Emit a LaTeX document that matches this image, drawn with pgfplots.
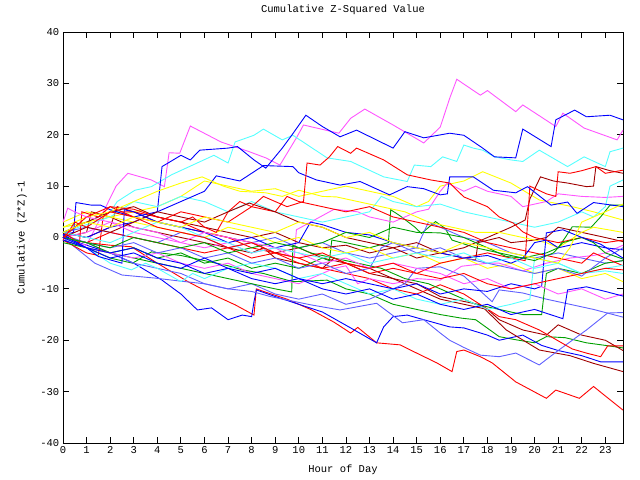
\documentclass[border=0pt]{standalone}
\usepackage{fontspec}
\setmainfont{Liberation Mono}
\usepackage{pgfplots}
\pgfplotsset{compat=1.18}
\definecolor{gred}{HTML}{FF0000}
\definecolor{ggreen}{HTML}{00A000}
\definecolor{gblue}{HTML}{0000FF}
\definecolor{gmag}{HTML}{FF55FF}
\definecolor{gcyan}{HTML}{55FFFF}
\definecolor{gdred}{HTML}{A00000}
\definecolor{gyel}{HTML}{FFFF00}
\definecolor{gperi}{HTML}{6060FF}
\begin{document}
\fontsize{10.5bp}{12bp}\selectfont
\begin{tikzpicture}
\useasboundingbox (-63bp,-37bp) rectangle (577bp,443bp);
\begin{axis}[
  scale only axis, width=560bp, height=411bp,
  xmin=0, xmax=23.75, ymin=-40, ymax=40,
  xtick={0,1,...,23}, ytick={-40,-30,...,40},
  tick align=inside, major tick length=6bp,
  tick style={black, line width=0.8bp},
  axis line style={black, line width=0.8bp},
  /pgf/number format/assume math mode=true,
  ticklabel style={font=\fontsize{10.5bp}{12bp}\selectfont},
  title={Cumulative Z-Squared Value},
  title style={at={(axis description cs:0.5,1)}, anchor=center, yshift=16bp},
  xlabel={Hour of Day},
  xlabel style={at={(axis description cs:0.5,0)}, anchor=center, yshift=-27bp},
  ylabel={Cumulative (Z*Z)-1},
  ylabel style={at={(axis description cs:-0.0732,0.5)}, anchor=center},
  every axis plot/.append style={line width=0.9bp, mark=none},
]
% W red lowest
\addplot[gred] coordinates {(0,0)(1,-1)(2,-1.5)(2.9,-1.8)(4,-5)(5.3,-8.6)(6.3,-11)(7.3,-13.1)(8.1,-15.1)(8.2,-10)(8.5,-10.5)(9.5,-12)(10.5,-14)(11.5,-16.5)(12.2,-18.6)(12.5,-17.5)(13.3,-20.5)(14.3,-20.9)(15,-22.5)(15.85,-24.4)(16.5,-26.1)(16.7,-22.2)(17,-21.9)(17.7,-23.2)(18.2,-24.4)(19.2,-28.1)(20.5,-31.3)(20.9,-29.7)(21.9,-31.3)(22.5,-29)(23.75,-33.6)};
% T green
\addplot[ggreen] coordinates {(0,-0.5)(1,-2)(2,-4)(2.95,-5)(3.75,-2.8)(5,-3.5)(6,-4.5)(7,-5.5)(7.6,-6.3)(8.5,-7)(9.75,-8.6)(11.2,-8.3)(12,-10)(13,-11)(14,-13)(15,-14)(16,-15)(16.9,-15.7)(17.5,-16)(18.5,-19.3)(19.2,-19.9)(20,-20.5)(20.5,-19.3)(21.3,-19.5)(22.2,-20.5)(23,-21)(23.75,-21.5)};
% X blue
\addplot[gblue] coordinates {(0,0)(1,-1.5)(2,-3)(3,-5)(4.2,-8.3)(5,-11)(5.7,-14.1)(6.3,-13.7)(7,-16)(7.6,-15.1)(8,-15.4)(8.1,-12.5)(8.2,-10.2)(9,-11.5)(10,-13)(11,-14.5)(12.2,-17.6)(13.3,-20.5)(13.6,-17.4)(14,-15.4)(14.6,-15.1)(15.3,-16)(16.4,-17.4)(17,-17.6)(18,-19)(18.5,-20)(19.5,-19)(20.3,-21)(21,-22)(22,-23)(22.8,-24.2)(23.75,-24.2)};
% extra darkred
\addplot[gdred] coordinates {(0,0)(1,1)(1.2,5)(2,4)(3,2)(4,1)(5,0)(6,-1)(7,-2)(8,-3)(8.5,-2)(9,-4)(10,-5)(11,-6)(11.5,-4)(12,-5)(13,-7)(14,-8)(15,-10)(16,-12)(17,-13)(18,-14)(18.5,-16)(19.5,-18)(20.5,-19)(21,-17)(22,-19)(23,-20)(23.75,-22)};
% A magenta top
\addplot[gmag] coordinates {(0,0)(0.5,-1)(1,-1.5)(1.5,3)(2.25,10)(2.75,12.5)(3.75,11.2)(4.3,9.9)(4.5,16.5)(4.95,16.4)(5.4,21.7)(6.7,18.6)(7.9,16.7)(8.6,15.5)(9.2,14.1)(9.9,19.4)(10.2,21.9)(11.7,20.3)(12.2,23.2)(12.8,25)(14,21.9)(15.3,18.4)(16,21.5)(16.4,27.1)(16.7,30.8)(17.7,27.7)(18,28.6)(19.2,24.5)(19.5,25.8)(20.9,21.6)(21.2,24.2)(22.1,21.3)(23.5,19)(23.75,20.9)};
% C cyan top
\addplot[gcyan] coordinates {(0,2)(1,3)(2,5)(2.3,7)(3.05,9.2)(3.75,9.9)(4.6,12.2)(6.4,16)(7,14.5)(7.3,18.6)(8.1,19.9)(8.5,21.1)(9.3,19)(9.75,19.9)(11.2,15.5)(12.2,14.8)(13.6,11.8)(14.6,10.9)(14.9,14.1)(15.6,13.8)(16.1,15.7)(16.7,14.8)(17,18)(17.4,17.4)(17.8,17)(18.3,15.7)(19,15.1)(19.5,14.8)(20.2,17)(21.4,13.8)(22.1,15.7)(23,13.8)(23.2,16.7)(23.75,17.4)};
% V darkred
\addplot[gdred] coordinates {(0,1)(1,0)(2,2)(2.3,6)(3,5)(4,3)(5,2)(6,1)(7,0)(8,-1)(9,-3)(10,-2)(11,-4)(12,-5)(13,-6)(14,-8)(15,-9)(16,-11.5)(17.7,-13.1)(18.8,-18)(20.2,-21.9)(21.5,-23)(22.5,-24.5)(23.75,-26.1)};
% J yellow
\addplot[gyel] coordinates {(0,2)(1,3)(2,4)(3,5)(4,6)(5,8)(6,11)(7,10)(8,9)(9,9.5)(10,8)(11,9)(12,10)(13,9)(14,8)(15,6)(15.5,7)(16,10)(17,11)(17.8,12.8)(19,10.6)(20.2,7.3)(21.6,6)(22.5,5)(23.75,3.4)};
% R periwinkle
\addplot[gperi] coordinates {(0,0)(1.35,-5)(2.5,-7.3)(3.9,-7.9)(5,-8.5)(6,-9)(7,-10)(8,-10.5)(8.8,-11.5)(10.5,-13.1)(11.75,-14.1)(13.3,-12.8)(14.4,-16.6)(15.3,-16)(16,-18.6)(16.4,-20)(17,-21.4)(17.7,-22.9)(18.5,-23.2)(19.2,-22.5)(20.2,-24.8)(21,-22)(22.2,-18)(23.1,-14.7)(23.75,-14.6)};
% S red
\addplot[gred] coordinates {(0,-0.5)(1,-3)(1.5,-3.5)(1.7,4)(2,5)(3,5)(4,4)(5,3)(6,1)(7,0)(8,-2)(9,-3)(10,-4)(11,-6)(12,-7)(13,-8)(14,-10)(15,-11)(16,-9.2)(17,-11)(18.5,-15.4)(19.2,-16)(20.2,-18)(21.6,-21.7)(22.2,-22.5)(22.8,-23.2)(23.1,-21.1)(23.75,-21.1)};
% I green
\addplot[ggreen] coordinates {(0,-1)(1,-2)(2,-3)(3,-2)(4,-4)(5,-3)(6,-5)(7,-4)(8,-6)(9,-5)(10,-6)(11,-4)(11.3,-4.5)(11.4,-0.5)(12,-1)(13,-2)(13.8,-1)(13.9,5.4)(14.3,4.2)(14.9,2.1)(15.2,0.8)(15.8,3.1)(16.2,1.8)(16.5,-0.5)(17.5,-2)(18.5,-3)(19.5,-4)(20.5,-3)(21,-2)(21.3,0)(21.6,2.1)(22.4,2)(22.8,4)(23.2,6.3)(23.75,6.3)};
% B blue top
\addplot[gblue] coordinates {(0,1)(1,0)(2,2)(3,3)(4,5)(4.2,13.8)(5,16)(5.4,15.1)(5.8,17)(7,17.4)(7.4,17.7)(8.1,15.1)(8.6,13.5)(9.3,17.4)(9.7,19.9)(10.3,23.8)(11,21.6)(11.75,19.6)(12.45,20.9)(14,17.4)(14.5,20.6)(15.3,19.4)(16.4,20.3)(17,19.9)(17.8,17.4)(18.3,15.7)(19.2,15.5)(19.5,21.1)(20.7,17.7)(20.9,22.9)(21.7,24.8)(22.2,23.5)(23.2,23.8)(23.75,22.9)};
% extra periwinkle
\addplot[gperi] coordinates {(0,1)(1,2)(2,1)(3,0)(4,-1)(5,1)(6,0)(7,-2)(8,-1)(9,0)(10,-2)(11,-1)(12,-3)(13,-4)(14,-3)(15,-2)(15.5,3)(16,2)(17,0)(18,-1)(19,-3)(20,-4)(21,-3)(22,-4)(23,-5)(23.75,-4.5)};
% Y magenta mid
\addplot[gmag] coordinates {(0,0)(1,1)(2,3)(3,2)(4,1)(5,-1)(6,-2)(7,-1)(8,-3)(9,-2)(9.8,-4)(9.9,1.5)(10.5,3)(11.5,5.5)(12.5,5)(13,4)(14,3)(15,5)(15.5,5.5)(16,9)(16.3,10.6)(17,9)(17.5,10)(18,9)(19,8)(19.5,6)(20.5,7)(21,8.5)(22,8)(23,7.8)(23.75,8)};
% G cyan mid
\addplot[gcyan] coordinates {(0,1)(2,4)(3,7)(4,6)(5,8)(6,7)(7,5)(8,7)(9,5)(10,4)(11,3)(12,4)(13,5)(13.5,8)(14,7)(15,6)(16,6.5)(17,5)(18,4)(19,3)(20,2)(21,3)(22,5)(22.5,4)(23,6)(23.2,10)(23.75,11.2)};
% F darkred
\addplot[gdred] coordinates {(0,1)(1,3)(2,5)(3,6)(4,4)(5,3)(6,2)(7,1)(8,0)(9,1)(10,-1)(11,-2)(12,-1.5)(13,-3)(14,-2)(15,-4)(16,-3)(17,-2)(18,0)(19,2)(19.6,3.4)(19.8,7.5)(20.25,11.8)(20.8,11)(21.4,10.6)(22.2,9.9)(22.5,10)(22.6,13.8)(23.2,13)(23.75,12.5)};
% P yellow
\addplot[gyel] coordinates {(0,3)(1,5)(2,4)(3,3)(4,2)(5,1)(6,0)(7,2)(8,1)(9,-1)(10,0)(11,-2)(12,-3)(13,-2)(14,-4)(15,-3)(16,-5)(17,-4)(18,-6)(19,-5)(20,-7)(21,-6)(22,-8)(23,-7)(23.75,-8.6)};
% AG periwinkle
\addplot[gperi] coordinates {(0,0.5)(1,-1)(2,-3)(3,-5)(4,-6)(5,-7)(6,-9)(7,-10)(8,-9)(9,-11)(10,-12)(11,-11)(12,-13)(13,-12)(14,-10)(14.5,-9)(15,-6)(16,-5.7)(17,-7.5)(18.2,-12.5)(18.5,-10.2)(19.5,-10.8)(20.5,-12)(21.5,-13)(22.5,-14)(23.75,-15.5)};
% E red
\addplot[gred] coordinates {(0,0)(1,-1)(2,1)(3,0)(4,-1)(5,-2)(6,-3)(7,-2)(8,-4)(9,-3)(10,-5)(11,-6)(12,-5)(13,-7)(14,-6)(15,-7)(16,-5)(17,-4)(18,-3)(19,-4)(19.6,-4.5)(19.8,10)(20.5,8.5)(20.9,8)(21,12.8)(21.5,12.5)(22,13)(22.6,13.8)(23,12.5)(23.75,13.1)};
% AC green
\addplot[ggreen] coordinates {(0,0)(1,-1)(2,-3)(3,-4)(4,-5)(5,-6)(6,-7)(7,-8)(8,-9)(9,-10)(9.7,-10.6)(9.75,-1.5)(10.5,-3)(11.5,-4)(12.5,-5)(13.5,-6)(14.5,-8)(15.5,-9)(16.5,-11)(17.5,-13)(18.5,-14)(19.5,-15)(20.3,-15)(20.5,-7)(21,-6)(22,-7)(23,-5)(23.75,-4.5)};
% H blue mid
\addplot[gblue] coordinates {(0,0.5)(0.45,1)(0.55,6.8)(1.2,6.3)(1.6,6.3)(2,5.4)(3,4)(4,5)(5,7)(6,9)(6.5,12)(7.5,11)(8.5,14)(9.75,13.8)(10,12.6)(10.75,11.2)(11.75,10.2)(12.6,10.9)(13.85,8.3)(14.6,9.9)(15.3,9.5)(16,8.3)(16.3,8.5)(16.4,11.8)(17.4,11.8)(18.25,9.2)(19.2,8.7)(19.7,9.9)(20.7,6.3)(21.4,6.9)(21.8,4.7)(22.5,6.8)(23.75,6)};
% Z magenta low
\addplot[gmag] coordinates {(0,0)(1,-2)(2,-3)(3,-4)(4,-3)(5,-5)(6,-6)(7,-5)(8,-7)(9,-8)(10,-9)(11,-7)(11.5,-6)(12,-5.5)(12.5,-9)(13,-8)(14,-9)(15,-8)(16,-8.3)(16.9,-5.6)(18,-5)(18.5,-5)(19.5,-6.5)(20.5,-5)(21.5,-4)(22.5,-3.5)(23,-3)(23.75,-1.5)};
% extra red mid
\addplot[gred] coordinates {(0,1)(0.7,-1)(0.8,5)(1.5,4)(2,6)(3,5.5)(4,4)(5,3)(5.5,4)(6,2)(6.5,1)(7,5)(7.5,7)(8,6)(9,5)(9.5,8)(10,7)(11,6)(12,5)(13,6)(14,4)(15,3)(16,2)(17,1)(17.5,0)(18,-1)(19,-2)(20,-3)(21,-4)(22,-5)(22.5,-3)(23,-4)(23.75,-5.5)};
% AE cyan low
\addplot[gcyan] coordinates {(0,0)(1,-2)(2,-5)(2.9,-6.3)(3.5,-5)(4,-6)(5,-8.6)(5.5,-7)(6,-8)(7,-6)(8,-5)(9,-6)(10,-8)(11,-7)(12,-9)(13,-11)(14,-10)(15,-12)(16,-13)(17,-12)(18,-14)(19,-13)(19.8,-12)(20,-4)(21,-5)(22,-7)(23,-6.5)(23.75,-7)};
% AK darkred
\addplot[gdred] coordinates {(0,0)(1,2)(2,1)(3,3)(4,5)(5,4)(6,3)(7,5)(7.9,6.7)(9,5)(10,3)(11,2)(12,0)(13,-1)(14,-2)(15,-1)(16,-3)(17,-4)(17.5,-4.4)(17.6,-1)(18.5,0)(19,-1)(20,-0.5)(20.5,0)(21,2)(22,1)(23,0)(23.75,-0.8)};
% AN yellow
\addplot[gyel] coordinates {(0,2)(1,4)(2,5)(3,7)(4,9)(5,10.6)(5.9,11.8)(6.8,10)(7.5,9)(8.6,8.7)(9.3,8)(10,9.2)(11,8)(11.6,7.9)(12.5,7)(13.5,6)(14.5,5)(15.5,3)(16.5,2)(17.5,1)(18.5,1)(19.5,0)(20.5,-1)(21,-2)(22,1)(22.5,2)(23.75,1)};
% L blue
\addplot[gblue] coordinates {(0,0.5)(1,-2)(1.5,-3.7)(2.5,-5)(2.6,5.4)(3,5)(4,3)(5,2)(6,1)(7,-1)(8,0)(9,-2)(10,-1)(10.5,3)(11,2.5)(12,1)(13,0.5)(14,-1)(15,-2)(16,-3)(17,-4)(18,-3.5)(19,-5)(19.5,-4)(20,-1)(20.5,-0.5)(21,-2)(22,-1)(23,-2)(23.75,-2.4)};
% AF periwinkle
\addplot[gperi] coordinates {(0,0)(1,-1)(2,-2)(3,-1)(4,-3)(5,-2)(6,-4)(7,-3)(8,-5)(9,-4)(10,-6)(11,-5)(12,-7)(13,-6)(13.5,-2)(14,-1)(15,-3)(16,-2)(17,-4)(18,-5)(19,-6)(20,-7)(21,-6)(22,-7.5)(23,-4)(23.75,-2)};
% D red upper
\addplot[gred] coordinates {(0,0)(1,4)(2,6)(3,4)(4,3)(5,5)(6,4)(7,3)(8,6)(8.5,8)(9.5,6)(10.2,7)(10.35,14.5)(10.9,14.1)(11.3,15.7)(11.65,17.7)(12.2,16.4)(12.45,17.4)(13.6,15.1)(14.6,12.2)(15.6,11.2)(16.4,10.6)(17,7.9)(18,6)(18.5,4)(19.1,2.8)(19.5,1.1)(20,0)(21,-1)(22,0)(23,-1)(23.75,-0.5)};
% AA green
\addplot[ggreen] coordinates {(0,0)(1,-1)(2,-2)(3,0)(4,-1)(5,-2)(6,-1)(7,-3)(8,-2)(9,-1)(10,-2)(11,-1)(12,1)(13,0)(14,2)(15,1)(16,0.9)(17,0)(18,-2)(18.8,-3.7)(19.5,-4)(20,-4.5)(20.8,-3)(21.2,-1)(22,0)(22.5,-1)(23,-3)(23.75,-4.2)};
% M blue
\addplot[gblue] coordinates {(0,-0.5)(1,-2)(2,-4)(3,-3)(4,-5)(5,-6)(6,-4)(7,-6)(8,-7)(9,-6)(10,-8)(11,-9)(12,-8)(13,-9)(14,-10)(15,-9)(16,-11)(17,-10)(18,-10.5)(19,-9)(20,-10)(20.3,-9.5)(20.5,0.9)(21.2,1.5)(21.9,0.2)(22.8,-1.3)(23.75,-4)};
% AP magenta
\addplot[gmag] coordinates {(0,3)(0.2,5.7)(0.5,5)(1,4)(2,3)(3,1)(4,0)(5,-1)(6,1)(7,0)(8,-1)(9,-2)(10,-3)(11,-5)(12,-4)(13,-6)(14,-5)(15,-6)(16,-7)(17,-9)(18,-8)(19,-10)(20,-9)(21,-11)(22,-10)(23,-12)(23.75,-11)};
% N cyan
\addplot[gcyan] coordinates {(0,1)(1,0)(2,-1)(3,1)(4,3)(5,2)(6,0)(7,-1)(8,-3)(9,-2)(10,-3)(11,-4)(12,-3)(13,-5)(14,-4)(15,-3)(16,-4)(17,-3)(18,-5)(19,-4)(20,-6)(21,-5)(22,-7)(23,-6)(23.75,-5.4)};
% O red
\addplot[gred] coordinates {(0,-0.5)(0.5,3)(1,2)(2,5)(3,4)(4,2)(5,1)(6,0)(7,-2)(8,-1)(9,-3)(10,-4)(11,-3)(12,-5)(13,-6)(14,-5)(15,-7)(16,-8)(17,-7)(18,-9)(19,-10)(20,-9)(21,-8)(22,-7)(23,-6)(23.75,-6.3)};
% AD yellow
\addplot[gyel] coordinates {(0,1)(1,3)(2,2)(3,4)(4,3)(5,2)(6,4)(7,3)(8,2)(9,1)(10,3)(11,2)(12,0)(13,1)(14,-1)(15,-2)(16,-3)(17,-1)(18,-2)(19,-3)(20,-4)(21,-5)(21.5,-2)(22,3)(22.5,4)(23,5)(23.75,6.5)};
% Q blue
\addplot[gblue] coordinates {(0,0)(1,-2)(2,-3)(3,-2)(4,-4)(5,-5)(6,-7)(7,-6)(8,-8)(9,-9)(10,-8)(11,-10)(12,-11)(13,-10)(14,-12)(15,-11)(16,-13)(17,-14)(18,-13)(19,-15)(20,-14)(21.2,-15.8)(21.4,-10.2)(22.2,-9.6)(23,-10.5)(23.75,-11.4)};
\end{axis}
\end{tikzpicture}
\end{document}
